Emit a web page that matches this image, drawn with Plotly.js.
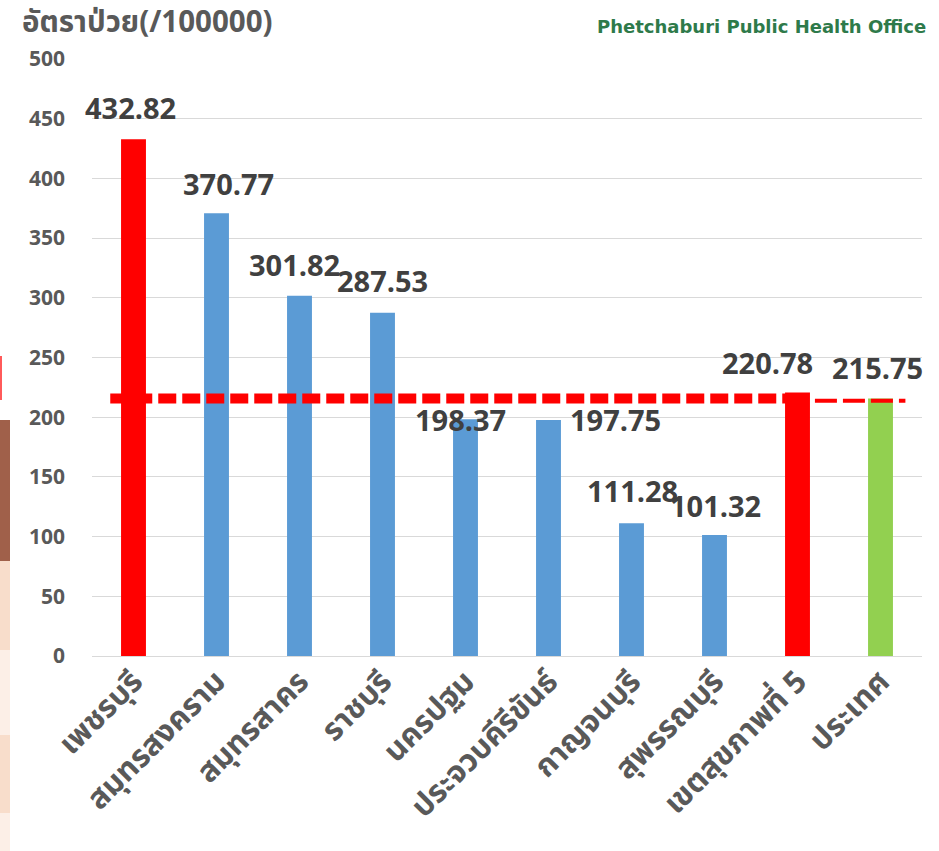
<!DOCTYPE html>
<html>
<head>
<meta charset="utf-8">
<script src="https://cdn.plot.ly/plotly-3.0.1.min.js"></script>
<style>html,body{margin:0;padding:0;background:#fff;}#chart{width:939px;height:851px;}</style>
</head>
<body>
<div id="chart"></div>
<script>
// ---- data ----
const provinces = ["เพชรบุรี","สมุทรสงคราม","สมุทรสาคร","ราชบุรี","นครปฐม","ประจวบคีรีขันธ์","กาญจนบุรี","สุพรรณบุรี","เขตสุขภาพที่ 5","ประเทศ"];
const rates = [432.82, 370.77, 301.82, 287.53, 198.37, 197.75, 111.28, 101.32, 220.78, 215.75];
const barColors = ["#FF0000","#5B9BD5","#5B9BD5","#5B9BD5","#5B9BD5","#5B9BD5","#5B9BD5","#5B9BD5","#FF0000","#92D050"];
const nationalRate = 215.75;
const yTitle = "อัตราป่วย(/100000)";
const sourceText = "Phetchaburi Public Health Office";

// ---- label offsets (styling) ----
const labelDx = [-3, 12, -5, 0, -5, 67, 1, 1, -30, -3];
const labelDy = [32, 30, 31, 32, 0, 0, 33, 30, 30, 31];

const thaiFont = "Tahoma, 'Noto Sans Thai', 'Leelawadee UI', 'Open Sans', sans-serif";
const numFont = "'Open Sans', 'DejaVu Sans', sans-serif";

const trace = {
  type: "bar",
  x: provinces,
  y: rates,
  marker: {color: barColors, line: {width: 0}},
  width: 0.3,
  hoverinfo: "x+y"
};

const annotations = provinces.map((p, i) => ({
  x: p, y: rates[i], xref: "x", yref: "y",
  text: "<b>" + rates[i].toFixed(2) + "</b>",
  showarrow: false,
  xanchor: "center", yanchor: "middle",
  xshift: labelDx[i], yshift: labelDy[i],
  font: {family: numFont, size: 29, color: "#404040"}
}));
annotations.push({
  xref: "paper", yref: "paper", x: 1.007, y: 1.054,
  xanchor: "right", yanchor: "middle",
  text: "<b>" + sourceText + "</b>", showarrow: false,
  font: {family: "'DejaVu Sans', Verdana, sans-serif", size: 18, color: "#2E7A4A"}
});

// left-edge background strips (paper coords)
const px2x = px => (px - 92) / 830;
const py2y = py => (656 - py) / 597;
const strips = [
  [356, 400, "#FF5A5A", 2],
  [420, 561, "#A0604A", 10],
  [561, 650, "#F8DDCB", 10],
  [650, 735, "#FCEFE7", 10],
  [735, 813, "#F8DDCB", 10],
  [813, 851, "#FCEFE7", 10]
];
const shapes = strips.map(s => ({
  type: "rect", xref: "paper", yref: "paper",
  x0: px2x(0), x1: px2x(s[3]),
  y0: py2y(s[1]), y1: py2y(s[0]),
  fillcolor: s[2], line: {width: 0}, layer: "below"
}));
shapes.push({
  type: "line", xref: "x", yref: "y",
  x0: -0.28, x1: 8.03, y0: nationalRate, y1: nationalRate,
  line: {color: "#FF0000", width: 10, dash: "18px,6px"}
});
shapes.push({
  type: "line", xref: "x", yref: "y",
  x0: 8.21, x1: 9.3, y0: nationalRate - 2, y1: nationalRate - 2,
  line: {color: "#FF0000", width: 4, dash: "22px,6px"}
});

const layout = {
  width: 939, height: 851,
  margin: {l: 92, r: 17, t: 59, b: 195, autoexpand: false},
  paper_bgcolor: "#fff", plot_bgcolor: "#fff",
  showlegend: false,
  bargap: 0.7,
  title: {
    text: "<b>" + yTitle + "</b>",
    xref: "container", yref: "container",
    x: 22/939, xanchor: "left", y: 1 - 22/851, yanchor: "middle",
    font: {family: thaiFont, size: 29.5, color: "#595959"}
  },
  xaxis: {
    type: "category",
    range: [-0.5, 9.5],
    autorange: false,
    automargin: false,
    tickangle: -45,
    tickfont: {family: thaiFont, size: 31, color: "#595959", weight: "bold"},
    showgrid: false, zeroline: false, showline: false, ticks: ""
  },
  yaxis: {
    range: [0, 500], dtick: 50, tick0: 0,
    autorange: false,
    automargin: false,
    showgrid: true, gridcolor: "#D9D9D9", gridwidth: 1,
    zeroline: true, zerolinecolor: "#D9D9D9", zerolinewidth: 1,
    showline: false, ticks: "",
    ticklabelstandoff: 26,
    tickfont: {family: numFont, size: 21, color: "#595959", weight: "bold"}
  },
  annotations: annotations,
  shapes: shapes
};

Plotly.newPlot("chart", [trace], layout, {displayModeBar: false, responsive: false});
</script>
</body>
</html>
